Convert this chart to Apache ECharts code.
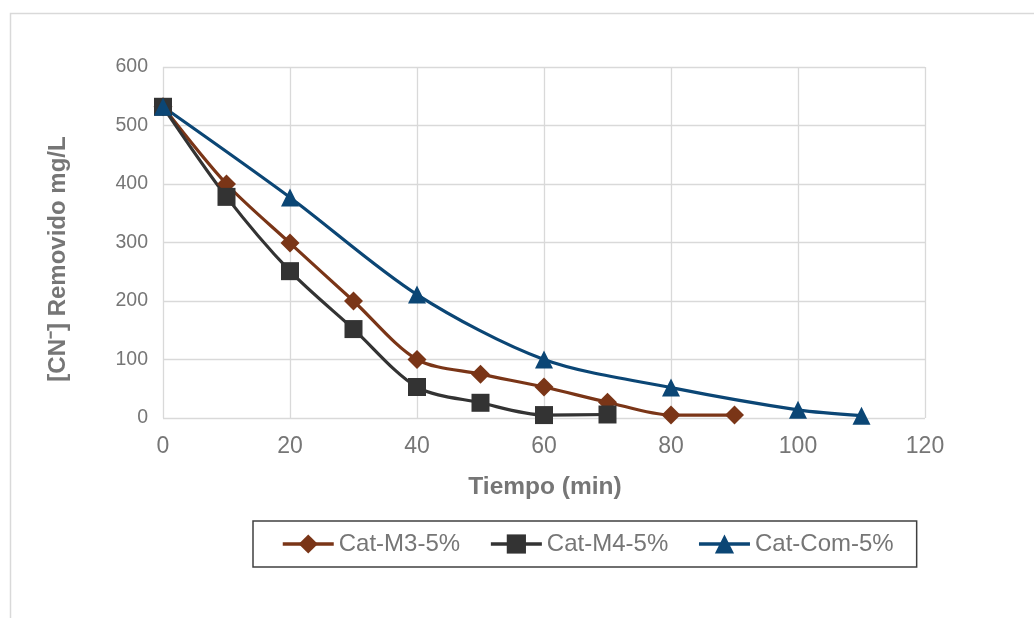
<!DOCTYPE html>
<html>
<head>
<meta charset="utf-8">
<script src="https://cdn.jsdelivr.net/npm/echarts@6/dist/echarts.min.js"></script>
<style>
html,body{margin:0;padding:0;background:#fff;}
#chart{width:1034px;height:618px;}
</style>
</head>
<body>
<div id="chart"></div>
<script>
// ---- data ----
const seriesNames = ['Cat-M3-5%', 'Cat-M4-5%', 'Cat-Com-5%'];
const m3Time = [0, 10, 20, 30, 40, 50, 60, 70, 80, 90];
const m3Vals = [532, 400, 299, 200, 100, 75, 53, 27, 5, 5];
const m4Time = [0, 10, 20, 30, 40, 50, 60, 70];
const m4Vals = [532, 378, 251, 152, 53, 26, 5, 6];
const comTime = [0, 20, 40, 60, 80, 100, 110];
const comVals = [532, 377, 211, 100, 52, 14, 4];
const xTicks = [0, 20, 40, 60, 80, 100, 120];
const yTicks = [0, 100, 200, 300, 400, 500, 600];
const xTitle = 'Tiempo (min)';
const yTitle = '[CN\u207B] Removido mg/L';

const pairs = (t, v) => t.map((x, i) => [x, v[i]]);
const FONT = '"Liberation Sans", Arial, sans-serif';
const TXT = '#767676';
const colors = ['#7A3517', '#333333', '#0B4675'];
const symbols = ['diamond', 'rect', 'triangle'];
const sizes = [[19, 19], [18, 18], [18, 18]];
const dataSets = [pairs(m3Time, m3Vals), pairs(m4Time, m4Vals), pairs(comTime, comVals)];

const chart = echarts.init(document.getElementById('chart'), null, {renderer: 'canvas'});
chart.setOption({
  animation: false,
  backgroundColor: '#fff',
  textStyle: {fontFamily: FONT},
  grid: {left: 163, right: 109, top: 67, bottom: 200, containLabel: false},
  xAxis: {
    type: 'value', min: xTicks[0], max: xTicks[xTicks.length - 1], interval: 20,
    axisLine: {show: false}, axisTick: {show: false},
    axisLabel: {color: TXT, fontSize: 23, margin: 17, fontFamily: FONT},
    splitLine: {show: true, lineStyle: {color: '#D9D9D9', width: 1.3}}
  },
  yAxis: {
    type: 'value', min: yTicks[0], max: yTicks[yTicks.length - 1], interval: 100,
    axisLine: {show: false}, axisTick: {show: false},
    axisLabel: {color: TXT, fontSize: 19.5, margin: 15, fontFamily: FONT},
    splitLine: {show: true, lineStyle: {color: '#D9D9D9', width: 1.3}}
  },
  legend: {
    left: 253, top: 521,
    padding: [11, 23, 11, 28],
    itemGap: 29, itemWidth: 51, itemHeight: 24,
    borderColor: '#404040', borderWidth: 1.5,
    lineStyle: {width: 3.5},
    textStyle: {color: TXT, fontSize: 24, fontFamily: FONT},
    data: seriesNames
  },
  graphic: [
    {type: 'rect', silent: true, z: -1,
     shape: {x: 10.5, y: 13.5, width: 1040, height: 640},
     style: {fill: 'none', stroke: '#D9D9D9', lineWidth: 1.5}},
    {type: 'text', x: 58, y: 259, rotation: Math.PI / 2,
     style: {text: yTitle, fill: TXT, font: 'bold 24px ' + FONT, align: 'center', verticalAlign: 'middle'}},
    {type: 'text', x: 545, y: 487,
     style: {text: xTitle, fill: TXT, font: 'bold 24.5px ' + FONT, align: 'center', verticalAlign: 'middle'}}
  ],
  series: seriesNames.map((n, i) => ({
    name: n, type: 'line', smooth: 0.3,
    data: dataSets[i],
    symbol: symbols[i], symbolSize: sizes[i], showSymbol: true,
    lineStyle: {color: colors[i], width: 3.2},
    itemStyle: {color: colors[i], borderColor: colors[i], borderWidth: 0},
    emphasis: {disabled: true}
  }))
});
</script>
</body>
</html>
